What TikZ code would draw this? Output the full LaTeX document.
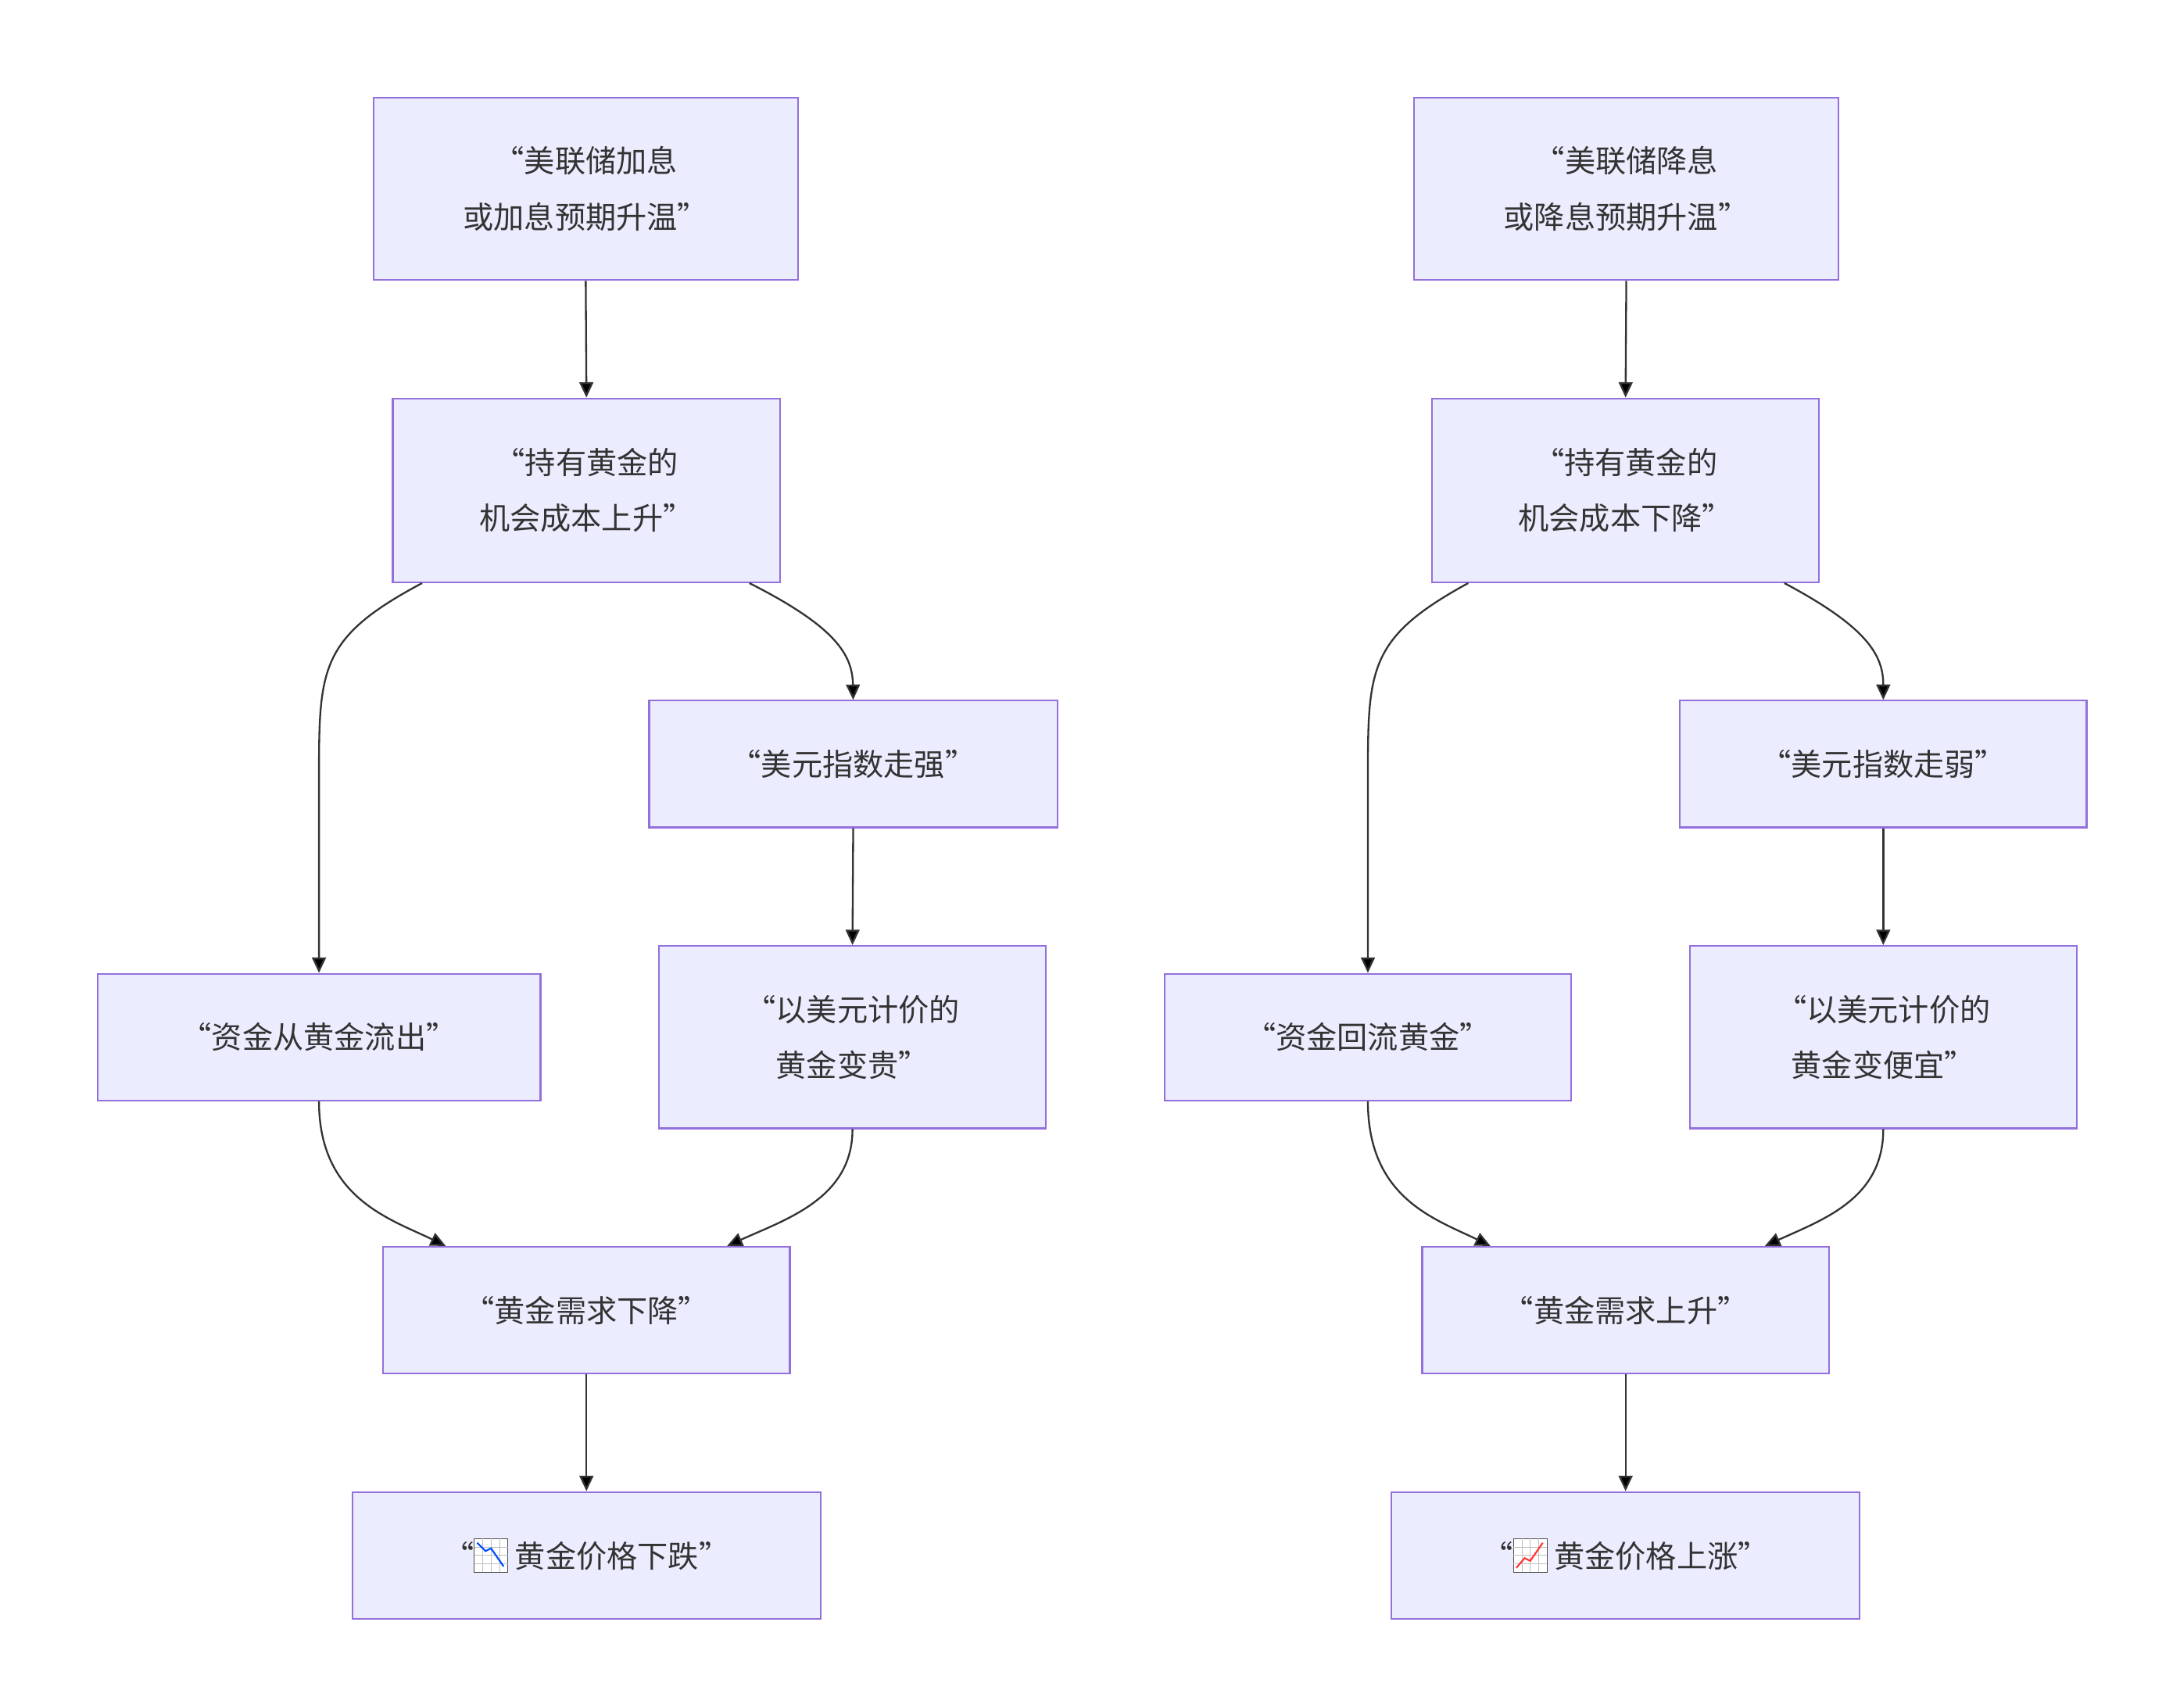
\documentclass[tikz,border=0pt]{standalone}
\usepackage{fontspec}
\setmainfont{Noto Sans CJK SC}
\usetikzlibrary{arrows.meta}
\definecolor{bfill}{HTML}{ECECFF}
\definecolor{bdraw}{HTML}{9370DB}
\definecolor{ln}{HTML}{333333}
\newcommand{\chartico}[1]{\begin{tikzpicture}[x=1pt,y=1pt,baseline=3pt]
\draw[black!70,fill=white,line width=0.6pt] (0,0) rectangle (24,24);
\foreach \g in {6,12,18}{\draw[black!25,line width=0.3pt] (\g,0)--(\g,24) (0,\g)--(24,\g);}
#1
\end{tikzpicture}}
\newcommand{\cdown}{\chartico{\draw[blue!70!cyan,line width=1.2pt] (2,21)--(8,15)--(12,17)--(21,4);}}
\newcommand{\cupico}{\chartico{\draw[red!80,line width=1.2pt] (2,3)--(8,10)--(12,8)--(21,21);}}
\begin{document}
\begin{tikzpicture}[x=1pt,y=-1pt,
 box/.style={draw=bdraw,fill=bfill,line width=1.2pt,align=center,font=\fontsize{22}{40}\selectfont,text=ln,inner sep=0pt},
 ar/.style={draw=ln,line width=1.3pt,-{Triangle[length=11pt,width=10pt]}}]
\useasboundingbox (0,0) rectangle (1560,1226);
\newcommand{\bx}[6]{\node[box,minimum width=#4-#2,minimum height=#5-#3] (#1) at ({(#2+#4)/2},{(#3+#5)/2}) {#6};}
\bx{a1}{268}{70}{573}{201}{“美联储加息\\或加息预期升温”}
\bx{a2}{282}{286}{560}{418}{“持有黄金的\\机会成本上升”}
\bx{a3}{466}{503}{759}{594}{“美元指数走强”}
\bx{a4}{70}{699}{388}{790}{“资金从黄金流出”}
\bx{a5}{473}{679}{751}{810}{“以美元计价的\\黄金变贵”}
\bx{a6}{275}{895}{567}{986}{“黄金需求下降”}
\bx{a7}{253}{1071}{589}{1162}{“\cdown\ 黄金价格下跌”}
\bx{b1}{1015}{70}{1320}{201}{“美联储降息\\或降息预期升温”}
\bx{b2}{1028}{286}{1306}{418}{“持有黄金的\\机会成本下降”}
\bx{b3}{1206}{503}{1498}{594}{“美元指数走弱”}
\bx{b4}{836}{699}{1128}{790}{“资金回流黄金”}
\bx{b5}{1213}{679}{1491}{810}{“以美元计价的\\黄金变便宜”}
\bx{b6}{1021}{895}{1313}{986}{“黄金需求上升”}
\bx{b7}{999}{1071}{1335}{1162}{“\cupico\ 黄金价格上涨”}
\foreach \p in {a,b}{
 \draw[ar] (\p1.south) -- (\p2.north);
 \draw[ar] (\p3.south) -- (\p5.north);
 \draw[ar] (\p6.south) -- (\p7.north);
}
\draw[ar] (a2.south -| 303,0) .. controls (229,458) and (229,480) .. (229,560) -- (a4.north);
\draw[ar] (a2.south -| 538,0) .. controls (600,450) and (612,470) .. (a3.north);
\draw[ar] (a4.south) .. controls (229,860) and (280,875) .. (a6.north -| 320,0);
\draw[ar] (a5.south) .. controls (612,860) and (565,875) .. (a6.north -| 522,0);
\draw[ar] (b2.south -| 1054,0) .. controls (982,458) and (982,480) .. (982,560) -- (b4.north);
\draw[ar] (b2.south -| 1281,0) .. controls (1340,450) and (1352,470) .. (b3.north);
\draw[ar] (b4.south) .. controls (982,860) and (1030,875) .. (b6.north -| 1070,0);
\draw[ar] (b5.south) .. controls (1352,860) and (1310,875) .. (b6.north -| 1267,0);
\end{tikzpicture}
\end{document}
